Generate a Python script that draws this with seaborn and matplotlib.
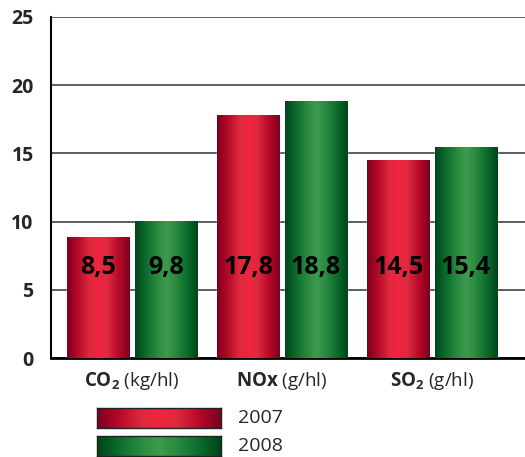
import numpy as np
import pandas as pd
import matplotlib
matplotlib.use("Agg")
import matplotlib.pyplot as plt
from matplotlib.colors import LinearSegmentedColormap
import seaborn as sns

# data
categories = [r"$\mathbf{CO_2}$ (kg/hl)", r"$\mathbf{NOx}$ (g/hl)", r"$\mathbf{SO_2}$ (g/hl)"]
years = ["2007", "2008"]
heights_2007 = [8.8, 17.8, 14.5]   # drawn bar heights
heights_2008 = [10.0, 18.8, 15.4]
labels_2007 = ["8,5", "17,8", "14,5"]  # printed values
labels_2008 = ["9,8", "18,8", "15,4"]
yticks = [0, 5, 10, 15, 20, 25]

df = pd.DataFrame({
    "cat": categories * 2,
    "year": [years[0]] * 3 + [years[1]] * 3,
    "value": heights_2007 + heights_2008,
    "label": labels_2007 + labels_2008,
})

sns.set_style("white")
plt.rcParams["font.family"] = ["Open Sans", "DejaVu Sans"]
plt.rcParams["mathtext.fontset"] = "custom"
plt.rcParams["mathtext.rm"] = "Open Sans"
plt.rcParams["mathtext.bf"] = "Open Sans:bold"

red_cmap = LinearSegmentedColormap.from_list("r", ["#7e001c", "#b80a2a", "#dc2a3e", "#f2243f"])
green_cmap = LinearSegmentedColormap.from_list("g", ["#00451a", "#0d6e2e", "#2a8a40", "#3e9c4d"])
cmaps = {years[0]: red_cmap, years[1]: green_cmap}

# cylinder-like shading: dark edges, bright middle
t = np.linspace(0, 1, 200)
profile = 1 - np.abs(2 * t - 1) ** 0.9
grad = profile[np.newaxis, :]

fig = plt.figure(figsize=(5.25, 4.57), dpi=100)
ax = fig.add_axes([51 / 525, 1 - 358 / 457, (525 - 51) / 525, (358 - 17) / 457])

sns.barplot(data=df, x="cat", y="value", hue="year", order=categories,
            hue_order=years, width=0.9, gap=0.08, palette=["#d01030", "#1a7a35"],
            legend=False, ax=ax, zorder=3)

for i, patch in enumerate(ax.patches):
    yr = years[i // 3]
    x0 = patch.get_x()
    w = patch.get_width()
    h = patch.get_height()
    ax.imshow(grad, extent=[x0, x0 + w, 0, h], aspect="auto",
              cmap=cmaps[yr], vmin=0, vmax=1, zorder=4, interpolation="bicubic")
    ax.text(x0 + w / 2, 6.6, df["label"].iloc[i], ha="center", va="center",
            fontsize=18, fontweight="bold", color="black", zorder=5)

ax.set_xlim(-0.54, 2.62)
ax.set_ylim(0, 25)
ax.set_yticks(yticks)
ax.set_yticklabels([str(v) for v in yticks], fontsize=14, fontweight="bold")
ax.set_xlabel("")
ax.set_ylabel("")
ax.yaxis.grid(True, color="#333333", linewidth=1.1, zorder=1)
ax.set_axisbelow(True)
ax.tick_params(axis="y", length=6.5, width=1.1, color="#333333", pad=6)
ax.tick_params(axis="x", length=0, pad=9, labelsize=13.5)
for side in ["top", "right"]:
    ax.spines[side].set_visible(False)
ax.spines["left"].set_color("black")
ax.spines["left"].set_linewidth(1.5)
ax.spines["bottom"].set_color("black")
ax.spines["bottom"].set_linewidth(2)

# legend with gradient swatches
swatch_rows = [(408, years[0]), (436, years[1])]
for top, yr in swatch_rows:
    sax = fig.add_axes([97 / 525, 1 - (top + 20) / 457, 124 / 525, 20 / 457])
    sax.imshow(grad, extent=[0, 1, 0, 1], aspect="auto", cmap=cmaps[yr],
               vmin=0, vmax=1, interpolation="bicubic")
    sax.set_xticks([])
    sax.set_yticks([])
    for sp in sax.spines.values():
        sp.set_color("#222222")
        sp.set_linewidth(1)
    fig.text(238 / 525, 1 - (top + 10) / 457, yr, fontsize=14, va="center", ha="left")

fig.savefig("out.png", dpi=100)
